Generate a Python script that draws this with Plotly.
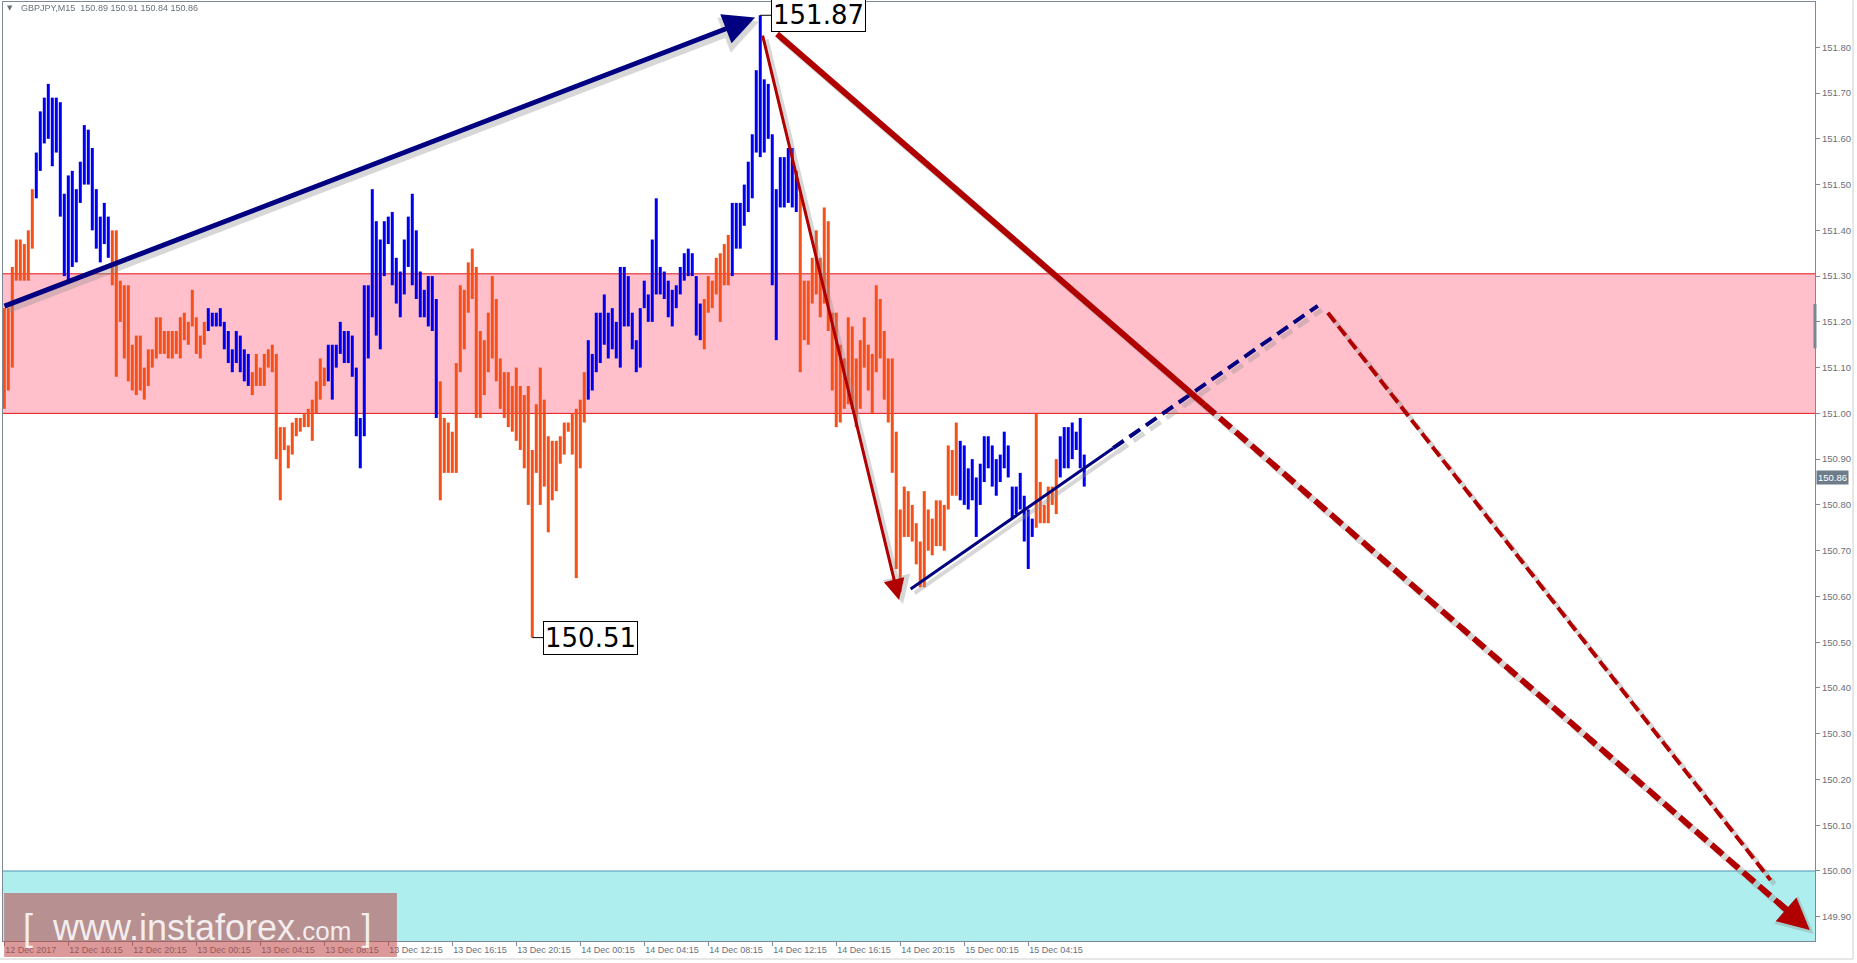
import plotly.graph_objects as go

# ---------------- data ----------------
header_text = "GBPJPY,M15  150.89 150.91 150.84 150.86"

time_labels = ["12 Dec 2017", "12 Dec 16:15", "12 Dec 20:15", "13 Dec 00:15", "13 Dec 04:15",
               "13 Dec 08:15", "13 Dec 12:15", "13 Dec 16:15", "13 Dec 20:15", "14 Dec 00:15",
               "14 Dec 04:15", "14 Dec 08:15", "14 Dec 12:15", "14 Dec 16:15", "14 Dec 20:15",
               "15 Dec 00:15", "15 Dec 04:15"]
bars_per_label = 16

price_ticks = [149.90, 150.00, 150.10, 150.20, 150.30, 150.40, 150.50, 150.60, 150.70, 150.80,
               150.90, 151.00, 151.10, 151.20, 151.30, 151.40, 151.50, 151.60, 151.70, 151.80]

bar_high = [
    151.23, 151.23, 151.32, 151.38, 151.38, 151.37, 151.40, 151.49, 151.57, 151.66,
    151.69, 151.72, 151.69, 151.69, 151.68, 151.48, 151.52, 151.53, 151.49, 151.55,
    151.63, 151.62, 151.58, 151.49, 151.43, 151.46, 151.43, 151.40, 151.40, 151.29,
    151.28, 151.28, 151.15, 151.17, 151.17, 151.10, 151.14, 151.14, 151.21, 151.21,
    151.18, 151.18, 151.18, 151.18, 151.21, 151.22, 151.20, 151.27, 151.21, 151.17,
    151.20, 151.23, 151.22, 151.22, 151.23, 151.20, 151.18, 151.14, 151.18, 151.17,
    151.14, 151.13, 151.09, 151.13, 151.10, 151.13, 151.14, 151.15, 151.13, 150.97,
    150.97, 150.93, 150.98, 150.99, 150.99, 151.00, 151.01, 151.03, 151.07, 151.12,
    151.10, 151.15, 151.15, 151.15, 151.20, 151.18, 151.18, 151.17, 151.10, 150.99,
    151.28, 151.28, 151.49, 151.42, 151.38, 151.42, 151.43, 151.44, 151.34, 151.31,
    151.38, 151.43, 151.48, 151.40, 151.31, 151.27, 151.30, 151.30, 151.25, 151.07,
    150.99, 150.98, 150.96, 151.11, 151.28, 151.27, 151.33, 151.36, 151.32, 151.18,
    151.16, 151.22, 151.30, 151.25, 151.12, 151.09, 151.09, 151.06, 151.10, 151.06,
    151.04, 151.06, 150.92, 151.02, 151.10, 151.03, 150.95, 150.94, 150.94, 150.95,
    150.98, 150.98, 151.00, 151.01, 151.03, 151.09, 151.16, 151.13, 151.22, 151.22,
    151.26, 151.22, 151.23, 151.20, 151.32, 151.32, 151.30, 151.22, 151.16, 151.23,
    151.29, 151.26, 151.38, 151.47, 151.32, 151.31, 151.29, 151.27, 151.28, 151.32,
    151.35, 151.36, 151.35, 151.30, 151.24, 151.25, 151.30, 151.29, 151.34, 151.35,
    151.37, 151.39, 151.46, 151.46, 151.46, 151.50, 151.55, 151.61, 151.75, 151.87,
    151.73, 151.72, 151.61, 151.49, 151.56, 151.56, 151.58, 151.58, 151.53, 151.48,
    151.29, 151.29, 151.34, 151.40, 151.34, 151.45, 151.42, 151.22, 151.22, 151.15,
    151.12, 151.21, 151.19, 151.12, 151.16, 151.21, 151.15, 151.13, 151.28, 151.25,
    151.18, 151.12, 151.12, 150.96, 150.79, 150.84, 150.83, 150.80, 150.76, 150.72,
    150.83, 150.79, 150.77, 150.81, 150.81, 150.80, 150.93, 150.92, 150.98, 150.94,
    150.93, 150.88, 150.90, 150.86, 150.89, 150.95, 150.95, 150.93, 150.90, 150.91,
    150.96, 150.93, 150.84, 150.84, 150.87, 150.82, 150.79, 150.77, 151.00, 150.85,
    150.80, 150.84, 150.84, 150.90, 150.95, 150.97, 150.97, 150.98, 150.96, 150.99,
    150.91,
]

bar_low = [
    151.01, 151.05, 151.10, 151.29, 151.29, 151.29, 151.29, 151.36, 151.47, 151.53,
    151.59, 151.60, 151.54, 151.57, 151.43, 151.30, 151.29, 151.32, 151.33, 151.46,
    151.50, 151.50, 151.40, 151.36, 151.33, 151.37, 151.34, 151.28, 151.08, 151.20,
    151.12, 151.07, 151.05, 151.04, 151.05, 151.03, 151.06, 151.10, 151.12, 151.13,
    151.13, 151.12, 151.12, 151.13, 151.12, 151.16, 151.15, 151.19, 151.13, 151.12,
    151.15, 151.18, 151.19, 151.19, 151.19, 151.14, 151.11, 151.09, 151.11, 151.09,
    151.07, 151.06, 151.04, 151.06, 151.06, 151.06, 151.10, 151.09, 150.90, 150.81,
    150.92, 150.88, 150.91, 150.95, 150.96, 150.97, 150.97, 150.94, 151.00, 151.03,
    151.06, 151.07, 151.03, 151.10, 151.13, 151.11, 151.11, 151.08, 150.95, 150.88,
    150.95, 151.12, 151.21, 151.17, 151.14, 151.30, 151.37, 151.28, 151.24, 151.21,
    151.26, 151.32, 151.28, 151.25, 151.21, 151.21, 151.19, 151.18, 150.99, 150.81,
    150.87, 150.87, 150.87, 150.87, 151.09, 151.14, 151.22, 151.25, 150.99, 150.99,
    151.04, 151.09, 151.12, 151.07, 151.01, 150.99, 150.97, 150.96, 150.94, 150.92,
    150.88, 150.80, 150.51, 150.87, 150.80, 150.84, 150.74, 150.81, 150.83, 150.89,
    150.91, 150.96, 150.91, 150.64, 150.88, 150.98, 151.03, 151.05, 151.09, 151.11,
    151.15, 151.12, 151.14, 151.12, 151.10, 151.19, 151.19, 151.14, 151.09, 151.10,
    151.23, 151.20, 151.20, 151.26, 151.26, 151.25, 151.21, 151.19, 151.23, 151.26,
    151.29, 151.30, 151.30, 151.17, 151.16, 151.14, 151.22, 151.23, 151.26, 151.20,
    151.28, 151.28, 151.30, 151.36, 151.36, 151.41, 151.44, 151.47, 151.57, 151.56,
    151.57, 151.60, 151.28, 151.16, 151.45, 151.45, 151.46, 151.45, 151.44, 151.09,
    151.16, 151.15, 151.24, 151.26, 151.21, 151.24, 151.18, 151.05, 150.97, 150.98,
    151.01, 151.02, 151.01, 150.97, 151.01, 151.10, 151.05, 151.00, 151.09, 151.12,
    151.03, 150.98, 150.87, 150.66, 150.61, 150.73, 150.73, 150.72, 150.67, 150.62,
    150.62, 150.70, 150.69, 150.71, 150.71, 150.70, 150.79, 150.82, 150.82, 150.81,
    150.80, 150.79, 150.81, 150.73, 150.80, 150.85, 150.88, 150.84, 150.82, 150.85,
    150.88, 150.86, 150.77, 150.78, 150.79, 150.72, 150.66, 150.73, 150.75, 150.76,
    150.76, 150.76, 150.80, 150.78, 150.86, 150.88, 150.88, 150.90, 150.92, 150.88,
    150.84,
]

# colour runs of the bars (down = orange, up = blue)
trend_runs = [("down", 8), ("up", 19), ("down", 24), ("up", 11), ("down", 19), ("up", 28),
              ("down", 37), ("up", 29), ("down", 7), ("up", 17), ("down", 40), ("up", 19),
              ("down", 6), ("up", 7)]

resistance_zone = [151.00, 151.305]
target_zone_top = 150.00
last_price = 150.86
peak_bar, peak_price = 189, 151.87
trough_bar, trough_price = 132, 150.51

# wave drawings (bar index, price)
wave_up_big = [(-0.33, 151.233), (187.7, 151.865)]
wave_down_small = [(189.5, 151.829), (223.7, 150.592)]
wave_down_big_solid = [(193.2, 151.829), (299.9, 151.020)]
wave_down_big_dash = [(299.9, 151.020), (446.0, 149.912)]
wave_down_big_head = [(443.0, 149.935), (451.4, 149.871)]
wave_up_small_solid = [(226.6, 150.616), (277.2, 150.924)]
wave_up_small_dash = [(277.2, 150.924), (328.4, 151.235)]
wave_down_alt_dash = [(330.9, 151.220), (441.6, 149.980)]

# ---------------- styling ----------------
BLUE = "#0000F0"
ORANGE = "#F4511A"
NAVY = "#000080"
DARKRED = "#B00000"
SHADOW = "rgba(140,140,140,0.35)"
AXIS = "#7d8996"
TXT = "#68717b"
SDX, SDY = 1.0, -0.0088  # shadow offset (≈4px right, 4px down)

fig = go.Figure()

# bars
xs = {"up": [], "down": []}
ys = {"up": [], "down": []}
i = 0
for kind, n in trend_runs:
    for _ in range(n):
        xs[kind] += [i, i, None]
        ys[kind] += [bar_low[i], bar_high[i], None]
        i += 1
fig.add_trace(go.Scatter(x=xs["down"], y=ys["down"], mode="lines",
                         line=dict(color=ORANGE, width=3), hoverinfo="skip"))
fig.add_trace(go.Scatter(x=xs["up"], y=ys["up"], mode="lines",
                         line=dict(color=BLUE, width=3), hoverinfo="skip"))

shapes = []
# zones
shapes.append(dict(type="rect", xref="paper", x0=0, x1=1, yref="y",
                   y0=resistance_zone[0], y1=resistance_zone[1],
                   fillcolor="#FFC0CB", line=dict(width=0), layer="below"))
for yv in resistance_zone:
    shapes.append(dict(type="line", xref="paper", x0=0, x1=1, yref="y", y0=yv, y1=yv,
                       line=dict(color="#E01515", width=1), layer="below"))
shapes.append(dict(type="rect", xref="paper", x0=0, x1=1, yref="y",
                   y0=149.0, y1=target_zone_top,
                   fillcolor="#AFEEEE", line=dict(width=0), layer="below"))
shapes.append(dict(type="line", xref="paper", x0=0, x1=1, yref="y",
                   y0=target_zone_top, y1=target_zone_top,
                   line=dict(color="#4f97b8", width=1), layer="below"))


def seg(pts, color, width, dash="solid", shadow=True):
    (x0, y0), (x1, y1) = pts
    if shadow:
        shapes.append(dict(type="line", xref="x", yref="y",
                           x0=x0 + SDX, y0=y0 + SDY, x1=x1 + SDX, y1=y1 + SDY,
                           line=dict(color=SHADOW, width=width + 1, dash=dash)))
    shapes.append(dict(type="line", xref="x", yref="y", x0=x0, y0=y0, x1=x1, y1=y1,
                       line=dict(color=color, width=width, dash=dash)))


annotations = []


def arrow(pts, color, width, size, shadow=True):
    (x0, y0), (x1, y1) = pts
    if shadow:
        annotations.append(dict(x=x1 + SDX, y=y1 + SDY, ax=x0 + SDX, ay=y0 + SDY,
                                xref="x", yref="y", axref="x", ayref="y", text="",
                                showarrow=True, arrowhead=2, arrowsize=size,
                                arrowwidth=width + 1, arrowcolor=SHADOW))
    annotations.append(dict(x=x1, y=y1, ax=x0, ay=y0, xref="x", yref="y",
                            axref="x", ayref="y", text="", showarrow=True,
                            arrowhead=2, arrowsize=size, arrowwidth=width,
                            arrowcolor=color))


# navy thin line (solid then dashed)
seg(wave_up_small_solid, NAVY, 3)
seg(wave_up_small_dash, NAVY, 4, dash="13px,7px")
# red dashed alternative path
seg(wave_down_alt_dash, DARKRED, 4, dash="12px,5px")
# big red line
seg(wave_down_big_solid, DARKRED, 6)
seg(wave_down_big_dash, DARKRED, 6, dash="15px,6px")

arrow(wave_up_big, NAVY, 5, 1.25)
arrow(wave_down_small, DARKRED, 3, 1.4)
arrow(wave_down_big_head, DARKRED, 6, 1.05)

# price labels with connectors
for b, p in [(peak_bar, peak_price), (trough_bar, trough_price)]:
    shapes.append(dict(type="line", xref="x", yref="y", x0=b, x1=b + 2.9, y0=p, y1=p,
                       line=dict(color="black", width=1)))
    annotations.append(dict(x=b, y=p, xref="x", yref="y", text=f"{p:.2f}",
                            showarrow=False, xanchor="left", yanchor="middle", xshift=11,
                            font=dict(family="DejaVu Sans", size=26, color="black"),
                            bgcolor="white", bordercolor="black", borderwidth=1,
                            borderpad=1))

# current price tag
annotations.append(dict(x=1, y=last_price, xref="paper", yref="y", text=f"{last_price:.2f}",
                        showarrow=False, xanchor="left", yanchor="middle", xshift=1,
                        font=dict(family="Liberation Sans", size=9.5, color="white"),
                        bgcolor="#6e7c8a", borderpad=1))
# axis scroll mark
shapes.append(dict(type="line", xref="paper", x0=1, x1=1, yref="y", y0=151.142, y1=151.239,
                   line=dict(color="#7a8692", width=3)))

# header
annotations.append(dict(x=0.0036, y=0.9933, xref="paper", yref="paper", text="▼",
                        showarrow=False, xanchor="center", yanchor="middle",
                        font=dict(family="DejaVu Sans", size=7, color=TXT)))
annotations.append(dict(x=0.0088, y=0.9933, xref="paper", yref="paper", text=header_text,
                        showarrow=False, xanchor="left", yanchor="middle",
                        font=dict(family="Liberation Sans", size=9, color=TXT)))

# watermark
shapes.append(dict(type="rect", xref="paper", yref="paper", x0=0.0006, x1=0.2174,
                   y0=-0.0170, y1=0.0511, fillcolor="rgba(190,70,70,0.55)",
                   line=dict(width=0), layer="above"))
annotations.append(dict(x=0.0099, y=-0.0096, xref="paper", yref="paper",
                        text="[  www.instaforex<span style='font-size:26px'>.com</span> ]",
                        showarrow=False, xanchor="left", yanchor="bottom",
                        font=dict(family="Liberation Sans", size=36,
                                  color="rgba(255,255,255,0.85)")))

# outer window frame
shapes.append(dict(type="line", xref="paper", yref="paper", x0=1.0210, x1=1.0210,
                   y0=-0.0192, y1=1.002, line=dict(color="#cfcfcf", width=1)))
shapes.append(dict(type="line", xref="paper", yref="paper", x0=-0.002, x1=1.0210,
                   y0=-0.0192, y1=-0.0192, line=dict(color="#cfcfcf", width=1)))

fig.update_layout(
    width=1857, height=963,
    margin=dict(l=3, r=42, t=2, b=22),
    paper_bgcolor="white", plot_bgcolor="white",
    showlegend=False,
    shapes=shapes, annotations=annotations,
    xaxis=dict(range=[-0.325, 452.7], showgrid=False, zeroline=False,
               showline=True, linecolor=AXIS, linewidth=1, mirror=True,
               ticks="outside", ticklen=4, tickcolor=AXIS,
               tickvals=[k * bars_per_label for k in range(len(time_labels))],
               ticktext=time_labels, ticklabelposition="outside right",
               tickfont=dict(family="Liberation Sans", size=9, color=TXT)),
    yaxis=dict(range=[149.847, 151.899], side="right", showgrid=False, zeroline=False,
               showline=True, linecolor=AXIS, linewidth=1, mirror=True,
               ticks="outside", ticklen=4, tickcolor=AXIS,
               tickvals=price_ticks, ticktext=[f"{v:.2f}" for v in price_ticks],
               tickfont=dict(family="Liberation Sans", size=9.5, color=TXT)),
)

fig.write_html("out.html", config={"displayModeBar": False},
               post_script="document.body.style.margin='0';")
